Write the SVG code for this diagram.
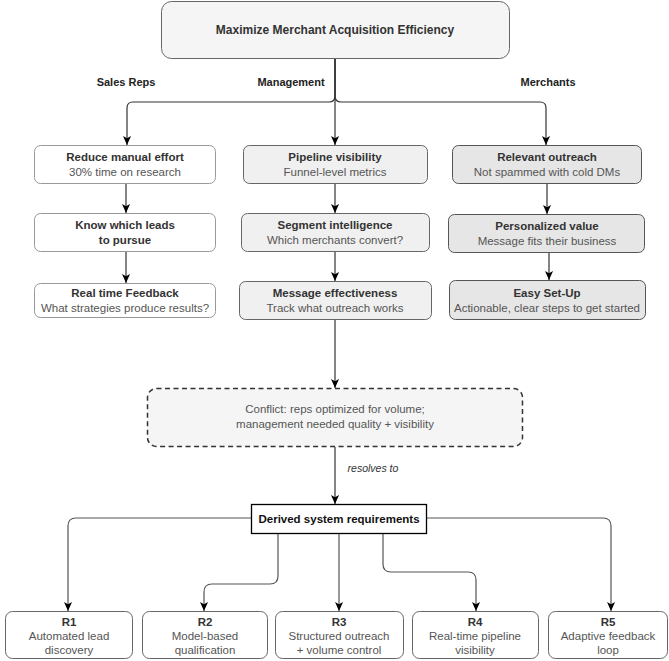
<svg xmlns="http://www.w3.org/2000/svg" width="669" height="661" viewBox="0 0 669 661">
<defs>
<marker id="arr" viewBox="0 0 10 10" refX="10" refY="5" markerWidth="9" markerHeight="9" markerUnits="userSpaceOnUse" orient="auto">
<path d="M0,0.5 L10,5 L0,9.5 L2.5,5 z" fill="#000"/>
</marker>
<style>
text{font-family:"Liberation Sans",Arial,Helvetica,sans-serif;font-size:11.5px;text-anchor:middle}
.b{font-weight:bold;fill:#333}
.s{fill:#555}
.lbl{font-weight:bold;fill:#222;font-size:11px}
.top{fill:#f5f5f5;stroke:#666;stroke-width:1}
.wb{fill:#fff;stroke:#999;stroke-width:1}
.mb{fill:#f0f0f0;stroke:#666;stroke-width:1}
.rb{fill:#e6e6e6;stroke:#555;stroke-width:1}
.rq{fill:#fff;stroke:#666;stroke-width:1}
.cf{fill:#f5f5f5;stroke:#333;stroke-width:1.5;stroke-dasharray:5 3.5}
.c{fill:none;stroke:#333;stroke-width:1.2;marker-end:url(#arr)}
.cg{fill:none;stroke:#555;stroke-width:1.2;marker-end:url(#arr)}
</style>
</defs>

<g id="connectors">
<path class="c" d="M335,59 V96 Q335,102 329,102 H133 Q127,102 127,108 V145"/>
<path class="c" d="M335,59 V145"/>
<path class="c" d="M335,59 V96 Q335,102 341,102 H540 Q546,102 546,108 V145"/>
<path class="c" d="M126,184 V213"/>
<path class="c" d="M126,252 V283"/>
<path class="c" d="M335,184 V213"/>
<path class="c" d="M335,252 V281"/>
<path class="c" d="M335,320 V388"/>
<path class="c" d="M547,184 V214"/>
<path class="c" d="M549,253 V280"/>
<path class="c" d="M335,447 V504"/>
<path class="cg" d="M251,518 H76 Q68,518 68,526 V611"/>
<path class="cg" d="M278,533 V576 Q278,584 270,584 H212 Q204,584 204,592 V611"/>
<path class="cg" d="M339,533 V611"/>
<path class="cg" d="M383,533 V564 Q383,572 391,572 H468 Q476,572 476,580 V611"/>
<path class="cg" d="M426,518 H603 Q611,518 611,526 V611"/>
<text x="373" y="472" style="font-style:italic;font-size:10.5px;fill:#333">resolves to</text>
</g>

<g id="goal">
<rect class="top" x="161.5" y="1.5" width="348" height="57" rx="10"/>
<text class="b" x="335" y="34" style="font-size:12px">Maximize Merchant Acquisition Efficiency</text>
</g>

<g id="labels">
<text class="lbl" x="126" y="86">Sales Reps</text>
<text class="lbl" x="291" y="86">Management</text>
<text class="lbl" x="548" y="86">Merchants</text>
</g>

<g id="reduce-manual-effort">
<rect class="wb" x="34.5" y="145.5" width="181" height="38" rx="6"/>
<text class="b" x="125" y="161">Reduce manual effort</text>
<text class="s" x="125" y="176">30% time on research</text>
</g>
<g id="know-leads">
<rect class="wb" x="34.5" y="213.5" width="181" height="38" rx="6"/>
<text class="b" x="125" y="229">Know which leads</text>
<text class="b" x="125" y="244">to pursue</text>
</g>
<g id="real-time-feedback">
<rect class="wb" x="34.5" y="283.5" width="181" height="34" rx="6"/>
<text class="b" x="125" y="297">Real time Feedback</text>
<text class="s" x="125" y="312">What strategies produce results?</text>
</g>

<g id="pipeline-visibility">
<rect class="mb" x="243.5" y="145.5" width="184" height="38" rx="6"/>
<text class="b" x="335" y="161">Pipeline visibility</text>
<text class="s" x="335" y="176">Funnel-level metrics</text>
</g>
<g id="segment-intelligence">
<rect class="mb" x="241.5" y="213.5" width="188" height="38" rx="6"/>
<text class="b" x="335" y="229">Segment intelligence</text>
<text class="s" x="335" y="244">Which merchants convert?</text>
</g>
<g id="message-effectiveness">
<rect class="mb" x="239.5" y="281.5" width="192" height="38" rx="6"/>
<text class="b" x="335" y="297">Message effectiveness</text>
<text class="s" x="335" y="312">Track what outreach works</text>
</g>

<g id="relevant-outreach">
<rect class="rb" x="452.5" y="145.5" width="189" height="38" rx="6"/>
<text class="b" x="547" y="161">Relevant outreach</text>
<text class="s" x="547" y="176">Not spammed with cold DMs</text>
</g>
<g id="personalized-value">
<rect class="rb" x="448.5" y="214.5" width="196" height="38" rx="6"/>
<text class="b" x="547" y="230">Personalized value</text>
<text class="s" x="547" y="245">Message fits their business</text>
</g>
<g id="easy-setup">
<rect class="rb" x="449.5" y="280.5" width="196" height="39" rx="6"/>
<text class="b" x="547" y="297">Easy Set-Up</text>
<text class="s" x="547" y="312">Actionable, clear steps to get started</text>
</g>

<g id="conflict">
<rect class="cf" x="147.5" y="388.5" width="375" height="58" rx="9"/>
<text class="s" x="335" y="413">Conflict: reps optimized for volume;</text>
<text class="s" x="335" y="428">management needed quality + visibility</text>
</g>

<g id="derived">
<rect x="251.5" y="504.5" width="175" height="29" fill="#fff" stroke="#000" stroke-width="1.3"/>
<text class="b" x="339" y="523" style="fill:#111">Derived system requirements</text>
</g>

<g id="r1">
<rect class="rq" x="5.5" y="611.5" width="127" height="47" rx="7"/>
<text class="b" x="69" y="626">R1</text>
<text class="s" x="69" y="640">Automated lead</text>
<text class="s" x="69" y="654">discovery</text>
</g>
<g id="r2">
<rect class="rq" x="142.5" y="611.5" width="125" height="47" rx="7"/>
<text class="b" x="205" y="626">R2</text>
<text class="s" x="205" y="640">Model-based</text>
<text class="s" x="205" y="654">qualification</text>
</g>
<g id="r3">
<rect class="rq" x="275.5" y="611.5" width="128" height="47" rx="7"/>
<text class="b" x="339" y="626">R3</text>
<text class="s" x="339" y="640">Structured outreach</text>
<text class="s" x="339" y="654">+ volume control</text>
</g>
<g id="r4">
<rect class="rq" x="412.5" y="611.5" width="126" height="47" rx="7"/>
<text class="b" x="475" y="626">R4</text>
<text class="s" x="475" y="640">Real-time pipeline</text>
<text class="s" x="475" y="654">visibility</text>
</g>
<g id="r5">
<rect class="rq" x="548.5" y="611.5" width="119" height="47" rx="7"/>
<text class="b" x="608" y="626">R5</text>
<text class="s" x="608" y="640">Adaptive feedback</text>
<text class="s" x="608" y="654">loop</text>
</g>
</svg>
